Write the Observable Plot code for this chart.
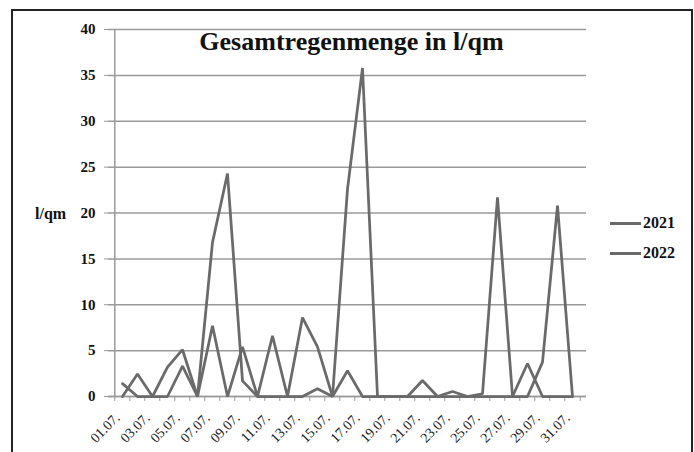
<!DOCTYPE html>
<html>
<head>
<meta charset="utf-8">
<script src="https://cdn.jsdelivr.net/npm/d3@7"></script>
<script src="https://cdn.jsdelivr.net/npm/@observablehq/plot@0.6"></script>
<style>
  html, body { margin: 0; padding: 0; background: #fff; }
  #wrap { position: relative; width: 694px; height: 452px; overflow: hidden; font-family: "Liberation Serif", "DejaVu Serif", serif; color: #111; }
  #frame { position: absolute; left: 11px; top: 9px; width: 678px; height: 460px; border: 2px solid #222; }
  #title { position: absolute; left: 0; width: 703px; top: 29px; text-align: center; font-size: 26px; line-height: 26px; font-weight: bold; white-space: nowrap; }
  #ylabel { position: absolute; left: 35px; top: 206px; font-size: 16px; line-height: 16px; font-weight: bold; }
  #legend { position: absolute; left: 610px; top: 208px; font-size: 16px; font-weight: bold; }
  .item { display: flex; align-items: center; height: 30px; }
  .sw { width: 31px; height: 3px; background: #6a6a6a; margin-right: 2px; }
  #chart { position: absolute; left: 0; top: 0; }
</style>
</head>
<body>
<div id="wrap">
  <div id="chart"></div>
  <div id="frame"></div>
  <div id="title"></div>
  <div id="ylabel"></div>
  <div id="legend"></div>
</div>
<script>
const days = ["01.07.","02.07.","03.07.","04.07.","05.07.","06.07.","07.07.","08.07.","09.07.","10.07.",
              "11.07.","12.07.","13.07.","14.07.","15.07.","16.07.","17.07.","18.07.","19.07.","20.07.",
              "21.07.","22.07.","23.07.","24.07.","25.07.","26.07.","27.07.","28.07.","29.07.","30.07.","31.07."];
const rain2021 = [1.4,0,0,0,3.3,0,16.8,24.3,1.7,0, 0,0,0,0.85,0,22.6,35.8,0,0,0, 0,0,0,0,0.3,21.7,0,0,3.75,20.8,0];
const rain2022 = [0,2.45,0,3.2,5.1,0,7.7,0,5.4,0, 6.6,0,8.6,5.4,0,2.8,0,0,0,0, 1.75,0,0.55,0,0,0,0,3.6,0,0,0];
const years = ["2021", "2022"];
const yTicks = [0, 5, 10, 15, 20, 25, 30, 35, 40];
const xLabels = days.filter((d, i) => i % 2 === 0);
const titleText = "Gesamtregenmenge in l/qm";
const yLabelText = "l/qm";

const rows = [
  ...days.map((d, i) => ({day: d, value: rain2021[i], year: years[0]})),
  ...days.map((d, i) => ({day: d, value: rain2022[i], year: years[1]}))
];

const W = 694, H = 452, mL = 108, mR = 108, mT = 29, mB = 56;
const halfStep = (W - mL - mR) / days.length / 2;
const grid = "#9a9a9a";
const lineColor = "#6a6a6a";

const chart = Plot.plot({
  width: W, height: H,
  marginLeft: mL, marginRight: mR, marginTop: mT, marginBottom: mB,
  style: {fontFamily: "'Liberation Serif', serif", color: "#111", background: "transparent"},
  x: {type: "point", domain: days, padding: 0.5, label: null},
  y: {domain: [0, 40], label: null},
  marks: [
    Plot.gridY(yTicks, {stroke: grid, strokeOpacity: 1, strokeWidth: 1.5}),
    Plot.ruleX([days[0]], {dx: -halfStep, stroke: grid, strokeWidth: 1.5}),
    Plot.ruleY([0], {stroke: grid, strokeWidth: 1.5}),
    Plot.axisY(yTicks, {tickSize: 4, tickPadding: 9, stroke: grid, fill: "#111", fontSize: 15, fontWeight: "bold", label: null}),
    Plot.axisX(days, {tickSize: 5, tickFormat: () => "", dx: -halfStep, stroke: grid, label: null}),
    Plot.axisX([days[days.length - 1]], {tickSize: 5, tickFormat: () => "", dx: halfStep, stroke: grid, label: null}),
    Plot.axisX(xLabels, {tickSize: 0, tickPadding: 19, dx: -5, tickRotate: -45, fontSize: 14, fill: "#1a1a1a", label: null}),
    Plot.line(rows, {x: "day", y: "value", z: "year", stroke: lineColor, strokeWidth: 2.75, strokeLinejoin: "miter"})
  ]
});
document.getElementById("chart").appendChild(chart);
document.getElementById("title").textContent = titleText;
document.getElementById("ylabel").textContent = yLabelText;
const leg = document.getElementById("legend");
years.forEach(y => {
  const it = document.createElement("div");
  it.className = "item";
  const sw = document.createElement("span");
  sw.className = "sw";
  const t = document.createElement("span");
  t.textContent = y;
  it.appendChild(sw); it.appendChild(t);
  leg.appendChild(it);
});
</script>
</body>
</html>
